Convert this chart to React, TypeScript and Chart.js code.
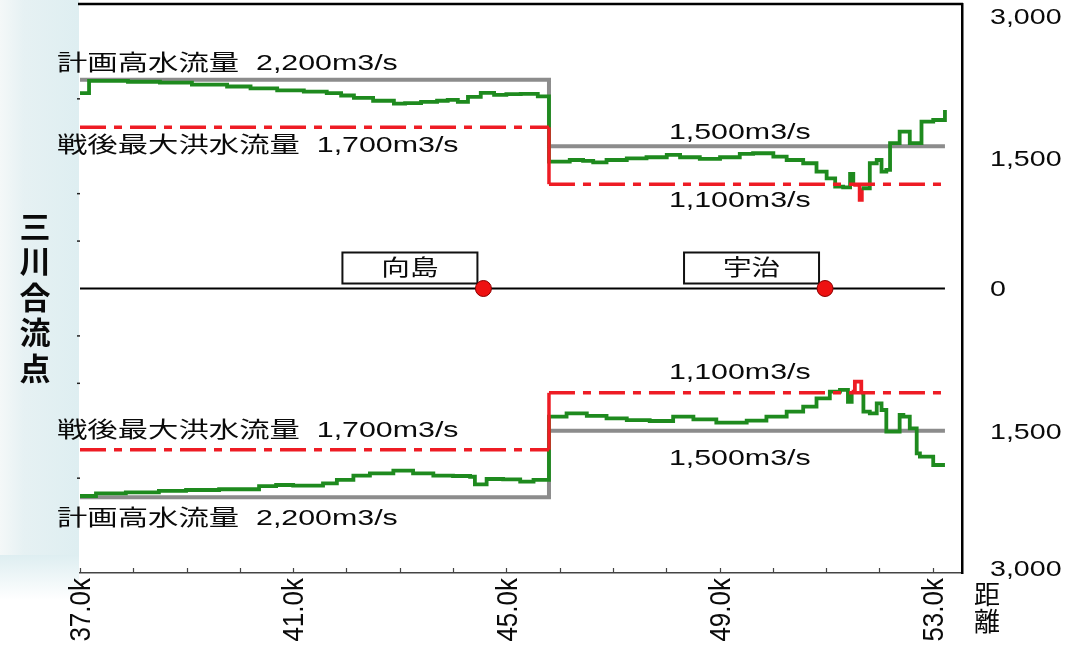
import React, { useEffect, useRef } from "react";
import { Chart, registerables } from "chart.js";
Chart.register(...registerables);

// ---------- data ----------
const upperKm = [37.0, 37.17, 37.9, 38.5, 39.1, 39.76, 40.2, 40.7, 41.2, 41.63, 41.9, 42.14, 42.5, 42.89, 43.1, 43.4, 43.7, 43.9, 44.09, 44.28, 44.52, 44.77, 45.0, 45.27, 45.59, 45.8,
  45.8, 46.19, 46.44, 46.63, 46.88, 47.26, 47.63, 48.01, 48.26, 48.63, 49.01, 49.38, 49.63, 50.01, 50.26, 50.57, 50.82, 51.01, 51.17, 51.32, 51.45, 51.51, 51.63, 51.67, 51.82, 51.95, 52.04, 52.13, 52.2, 52.38, 52.51, 52.57, 52.76, 52.79, 53.01, 53.23];
const upperFlow = [2060, 2190, 2180, 2170, 2150, 2130, 2110, 2090, 2075, 2060, 2035, 2010, 1980, 1950, 1955, 1967, 1980, 1988, 1967, 2020, 2062, 2041, 2050, 2052, 2025, 2010,
  1338, 1355, 1345, 1331, 1355, 1373, 1384, 1408, 1384, 1366, 1384, 1419, 1426, 1390, 1355, 1321, 1232, 1162, 1074, 1067, 1208, 1092, 934, 1057, 1321, 1355, 1232, 1250, 1532, 1654, 1654, 1532, 1532, 1760, 1777, 1883];

const lowerKm = [37.0, 37.3, 37.86, 38.48, 38.99, 39.61, 40.36, 40.68, 41.0, 41.56, 41.82, 42.13, 42.44, 42.88, 43.25, 43.63, 44.0, 44.32, 44.41, 44.57, 44.63, 44.94, 45.26, 45.51, 45.8,
  45.8, 46.13, 46.51, 46.88, 47.26, 47.69, 48.13, 48.51, 48.94, 49.51, 49.88, 50.26, 50.57, 50.82, 51.07, 51.26, 51.41, 51.48, 51.54, 51.66, 51.7, 51.82, 51.95, 52.04, 52.13, 52.2, 52.38, 52.45, 52.57, 52.7, 52.76, 53.01, 53.23];
const lowerFlow = [-2188, -2160, -2149, -2135, -2125, -2117, -2083, -2072, -2079, -2054, -2019, -1974, -1949, -1921, -1949, -1974, -1977, -1985, -2065, -2065, -2009, -2012, -2037, -2019, -1995,
  -1352, -1316, -1344, -1369, -1387, -1397, -1352, -1379, -1415, -1394, -1352, -1299, -1246, -1158, -1088, -1070, -1194, -1088, -983, -1105, -1299, -1316, -1211, -1281, -1510, -1510, -1334, -1352, -1474, -1738, -1773, -1861, -1861];

const refKm = [37.0, 45.8, 45.8, 53.23];
const planUpper = [2200, 2200, 1500, 1500];
const planLower = [-2200, -2200, -1500, -1500];
const maxUpper = [1700, 1700, 1100, 1100];
const maxLower = [-1700, -1700, -1100, -1100];
const zeroKm = [37.0, 53.23];
const zeroVal = [0, 0];

const stationNames = ["向島", "宇治"];
const stationKm = [44.57, 50.98];

const xMinorTicks = [37, 38, 39, 40, 41, 42, 43, 44, 45, 46, 47, 48, 49, 50, 51, 52, 53];
const xTickValues = [37, 41, 45, 49, 53];
const xTickLabels = ["37.0k", "41.0k", "45.0k", "49.0k", "53.0k"];
const yTickValues = [3000, 1500, 0, -1500, -3000];
const yTickLabels = ["3,000", "1,500", "0", "1,500", "3,000"];
const yLeftTicks = [2000, 1000, 500, -500, -1000, -2000];

const planLabel = "計画高水流量  2,200m3/s";
const maxLabel = "戦後最大洪水流量  1,700m3/s";
const label1500 = "1,500m3/s";
const label1100 = "1,100m3/s";
const sideTitle = "三川合流点";
const xTitle = "距離";

// ---------- styles ----------
const GREEN = "#1e8a1e";
const RED = "#ee1c24";
const GRAY = "#8c8c8c";
const FONT = '"Liberation Sans", "Noto Sans CJK JP", sans-serif';
const DASH = [26, 8, 8, 8];

const pts = (xs: number[], ys: number[]) => xs.map((x, i) => ({ x, y: ys[i] }));

function sText(ctx: CanvasRenderingContext2D, text: string, x: number, y: number, size: number, sx: number,
  align: CanvasTextAlign, baseline: CanvasTextBaseline, weight = "normal") {
  ctx.save();
  ctx.font = `${weight} ${size}px ${FONT}`;
  ctx.fillStyle = "#0a0a0a";
  ctx.textAlign = align;
  ctx.textBaseline = baseline;
  ctx.translate(x, y);
  ctx.scale(sx, 1);
  ctx.fillText(text, 0, 0);
  ctx.restore();
}

const decorPlugin = {
  id: "decor",
  beforeDraw(chart: any) {
    const ctx = chart.ctx as CanvasRenderingContext2D;
    const a = chart.chartArea;
    ctx.save();
    ctx.fillStyle = "#ffffff";
    ctx.fillRect(0, 0, chart.width, chart.height);
    const g = ctx.createLinearGradient(0, 0, a.left - 1, 0);
    g.addColorStop(0, "#f4f8f8");
    g.addColorStop(0.3, "#e6f1f3");
    g.addColorStop(1, "#deeef1");
    ctx.fillStyle = g;
    ctx.fillRect(0, 0, a.left - 1, 560);
    const g2 = ctx.createLinearGradient(0, 555, 0, 600);
    g2.addColorStop(0, "rgba(222,238,241,1)");
    g2.addColorStop(1, "rgba(255,255,255,1)");
    ctx.fillStyle = g2;
    ctx.fillRect(0, 555, a.left - 1, 45);
    ctx.restore();
  },
  beforeDatasetsDraw(chart: any) {
    const ctx = chart.ctx as CanvasRenderingContext2D;
    const xs = chart.scales.x, ys = chart.scales.y;
    const zy = ys.getPixelForValue(0);
    stationNames.forEach((name, i) => {
      const right = xs.getPixelForValue(stationKm[i]) - 6;
      const left = right - 135;
      const top = zy - 36;
      ctx.save();
      ctx.fillStyle = "#fff";
      ctx.strokeStyle = "#111";
      ctx.lineWidth = 2;
      ctx.fillRect(left, top, 135, 31);
      ctx.strokeRect(left, top, 135, 31);
      ctx.restore();
      sText(ctx, name, (left + right) / 2, top + 16, 22, 1.3, "center", "middle");
    });
  },
  afterDraw(chart: any) {
    const ctx = chart.ctx as CanvasRenderingContext2D;
    const a = chart.chartArea;
    const xs = chart.scales.x, ys = chart.scales.y;
    ctx.save();
    // top border
    ctx.strokeStyle = "#000";
    ctx.lineWidth = 2.5;
    ctx.beginPath();
    ctx.moveTo(a.left - 2, a.top);
    ctx.lineTo(a.right + 1, a.top);
    ctx.stroke();
    // x ticks (inside)
    ctx.strokeStyle = "#444";
    ctx.lineWidth = 1.2;
    xMinorTicks.forEach((v) => {
      const px = Math.round(xs.getPixelForValue(v)) + 0.5;
      ctx.beginPath();
      ctx.moveTo(px, a.bottom);
      ctx.lineTo(px, a.bottom - 5);
      ctx.stroke();
    });
    // left small ticks
    ctx.strokeStyle = "#222";
    ctx.lineWidth = 1.5;
    yLeftTicks.forEach((v) => {
      const py = ys.getPixelForValue(v);
      ctx.beginPath();
      ctx.moveTo(a.left - 3, py);
      ctx.lineTo(a.left, py);
      ctx.stroke();
    });
    ctx.restore();

    // x tick labels (rotated)
    xTickValues.forEach((v, i) => {
      const px = xs.getPixelForValue(v);
      ctx.save();
      ctx.font = `26px ${FONT}`;
      ctx.fillStyle = "#0a0a0a";
      ctx.textAlign = "right";
      ctx.textBaseline = "middle";
      ctx.translate(px + 2, a.bottom + 5);
      ctx.scale(1.15, 1);
      ctx.rotate(-Math.PI / 2);
      ctx.fillText(xTickLabels[i], 0, 0);
      ctx.restore();
    });
    // right axis labels
    yTickValues.forEach((v, i) => {
      const py = ys.getPixelForValue(v) + (v > 0 ? 14 : v <= -3000 ? -3 : v < 0 ? 2 : 1);
      sText(ctx, yTickLabels[i], a.right + 28, py, 22, 1.3, "left", "middle");
    });
    // x title (vertical)
    Array.from(xTitle).forEach((ch, i) => {
      sText(ctx, ch, a.right + 25, a.bottom + 24 + i * 27, 26, 1.0, "center", "middle");
    });
    // side title (vertical)
    Array.from(sideTitle).forEach((ch, i) => {
      sText(ctx, ch, 35, 229 + i * 35.5, 31, 1.0, "center", "middle", "bold");
    });

    // annotations
    const X = (v: number) => xs.getPixelForValue(v);
    const Y = (v: number) => ys.getPixelForValue(v);
    const lx = a.left - 23;
    const cx = X(49.38);
    sText(ctx, planLabel, lx, Y(2200) - 16, 22, 1.38, "left", "middle");
    sText(ctx, maxLabel, lx, Y(1700) + 19, 22, 1.38, "left", "middle");
    sText(ctx, label1500, cx, Y(1500) - 13, 22, 1.38, "center", "middle");
    sText(ctx, label1100, cx, Y(1100) + 17, 22, 1.38, "center", "middle");
    sText(ctx, label1100, cx, Y(-1100) - 20, 22, 1.38, "center", "middle");
    sText(ctx, maxLabel, lx, Y(-1700) - 19, 22, 1.38, "left", "middle");
    sText(ctx, label1500, cx, Y(-1500) + 28, 22, 1.38, "center", "middle");
    sText(ctx, planLabel, lx, Y(-2200) + 22, 22, 1.38, "left", "middle");
  },
};

export default function App() {
  const ref = useRef<HTMLCanvasElement | null>(null);
  useEffect(() => {
    if (!ref.current) return;
    const greenSeg = (thr: (y: number) => boolean) => ({
      borderColor: (c: any) => (thr(c.p0.parsed.y) || thr(c.p1.parsed.y) ? RED : GREEN),
    });
    const dashSeg = {
      borderDash: (c: any) => (c.p0.parsed.x === c.p1.parsed.x ? [] : DASH),
    };
    const chart = new Chart(ref.current, {
      type: "line",
      data: {
        datasets: [
          { data: pts(stationKm, stationKm.map(() => 0)), showLine: false, pointRadius: 8, pointBackgroundColor: "#ee1111", pointBorderColor: "#8a0000", pointBorderWidth: 1, order: 0 } as any,
          { data: pts(refKm, maxUpper), borderColor: RED, borderWidth: 3.5, borderDash: DASH, segment: dashSeg, pointRadius: 0, order: 1 },
          { data: pts(refKm, maxLower), borderColor: RED, borderWidth: 3.5, borderDash: DASH, segment: dashSeg, pointRadius: 0, order: 1 },
          { data: pts(upperKm, upperFlow), borderColor: GREEN, borderWidth: 3.8, stepped: true, segment: greenSeg((y) => y < 1000), pointRadius: 0, order: 2 },
          { data: pts(lowerKm, lowerFlow), borderColor: GREEN, borderWidth: 3.8, stepped: true, segment: greenSeg((y) => y > -1000), pointRadius: 0, order: 2 },
          { data: pts(zeroKm, zeroVal), borderColor: "#000", borderWidth: 2, pointRadius: 0, order: 2 },
          { data: pts(refKm, planUpper), borderColor: GRAY, borderWidth: 4, pointRadius: 0, order: 3 },
          { data: pts(refKm, planLower), borderColor: GRAY, borderWidth: 4, pointRadius: 0, order: 3 },
        ],
      },
      options: {
        animation: false,
        responsive: false,
        devicePixelRatio: 1,
        events: [],
        layout: { autoPadding: false, padding: { left: 80, right: 110, top: 4, bottom: 75 } },
        plugins: { legend: { display: false }, tooltip: { enabled: false } },
        scales: {
          x: {
            type: "linear",
            min: 37.0,
            max: 53.55,
            grid: { display: false, drawTicks: false },
            ticks: { display: false },
            border: { display: true, color: "#444", width: 1.5 },
          },
          y: {
            type: "linear",
            position: "right",
            min: -3000,
            max: 3000,
            grid: { display: false, drawTicks: false },
            ticks: { display: false },
            border: { display: true, color: "#000", width: 2.5 },
          },
        },
      },
      plugins: [decorPlugin],
    });
    return () => chart.destroy();
  }, []);
  return (
    <div style={{ position: "fixed", left: 0, top: 0, width: 1072, height: 648, background: "#fff" }}>
      <canvas ref={ref} width={1072} height={648} style={{ width: 1072, height: 648, display: "block" }} />
    </div>
  );
}
